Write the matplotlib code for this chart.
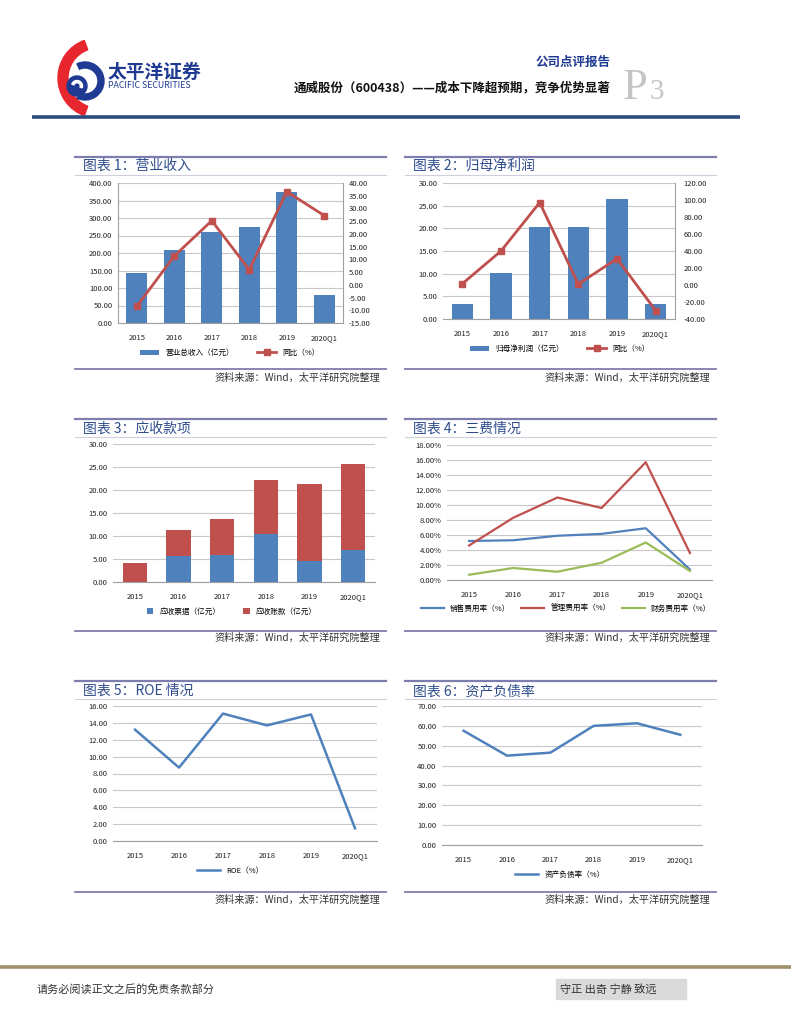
import matplotlib
matplotlib.use("Agg")
import matplotlib.pyplot as plt
import matplotlib.patches as mpatches
from matplotlib.ticker import FuncFormatter

plt.rcParams['font.family'] = ['Noto Sans CJK SC', 'DejaVu Sans']

W, H = 791, 1024

# ---- data ----
years = ['2015', '2016', '2017', '2018', '2019', '2020Q1']

revenue = [142, 210, 260, 274, 375, 79]
revenue_yoy = [-8.5, 11.3, 25.2, 5.9, 36.6, 27.2]

profit = [3.2, 10.1, 20.2, 20.2, 26.4, 3.3]
profit_yoy = [1.5, 40.0, 97.0, 1.0, 31.0, -30.0]

notes_recv = [0.0, 5.7, 5.9, 10.5, 4.5, 7.0]
accts_recv = [4.2, 5.7, 7.9, 11.7, 16.8, 18.6]

sell_rate = [5.2, 5.3, 5.9, 6.15, 6.9, 1.4]
admin_rate = [4.6, 8.3, 11.0, 9.6, 15.7, 3.6]
fin_rate = [0.7, 1.6, 1.1, 2.3, 5.0, 1.2]

roe = [13.2, 8.7, 15.1, 13.7, 15.0, 1.5]
debt_ratio = [57.5, 45.0, 46.5, 60.0, 61.3, 55.5]

BLUE = '#4F81BD'
RED = '#C0504D'
GREEN = '#9BBB59'
GRID = '#C8C8C8'
TICK = 5.5

fig = plt.figure(figsize=(W / 100, H / 100), dpi=100)

# overlay in pixel coords for page decorations
ov = fig.add_axes([0, 0, 1, 1], zorder=-1)
ov.set_xlim(0, W)
ov.set_ylim(H, 0)
ov.axis('off')


def px_axes(x0, y0, x1, y1):
    return fig.add_axes([x0 / W, 1 - y1 / H, (x1 - x0) / W, (y1 - y0) / H])


def fxy(x, y):
    return (x / W, 1 - y / H)


def style(ax, ymin, ymax, step, side_spines=False):
    ax.set_ylim(ymin, ymax)
    ax.set_yticks([ymin + i * step for i in range(int(round((ymax - ymin) / step)) + 1)])
    ax.yaxis.set_major_formatter(FuncFormatter(lambda v, p: '%.2f' % v))
    ax.set_xlim(-0.5, len(years) - 0.5)
    ax.set_xticks(range(len(years)))
    ax.set_xticklabels(years)
    ax.tick_params(axis='both', length=0, labelsize=TICK, colors='#222222', pad=8)
    ax.tick_params(axis='y', pad=4)
    ax.grid(axis='y', color=GRID, lw=0.8)
    ax.set_axisbelow(True)
    for s in ['top', 'right']:
        ax.spines[s].set_visible(False)
    ax.spines['bottom'].set_color('#A0A0A0')
    ax.spines['left'].set_color('#A0A0A0')
    ax.spines['left'].set_visible(side_spines)


# ---- page header ----
ov.add_patch(mpatches.Wedge((98, 78), 40, 110, 250, width=10, color='#E8262E'))
ov.add_patch(mpatches.Wedge((85, 81), 19, -115, 115, width=6, color='#1F3A93'))
ov.add_patch(mpatches.Circle((77, 86), 10, color='#1F3A93'))
ov.add_patch(mpatches.Wedge((77, 86), 5.5, 200, 20, width=2.2, color='white'))
ov.text(107, 72, '太平洋证券', fontsize=13.5, fontweight='bold', color='#1F3A93', va='center')
ov.text(108, 86, 'PACIFIC SECURITIES', fontsize=6.3, color='#1F3A93', va='center')
ov.text(611, 62, '公司点评报告', fontsize=9, fontweight='bold', color='#1F3A93', ha='right', va='center')
ov.text(611, 88, '通威股份（600438）——成本下降超预期，竞争优势显著', fontsize=9,
        fontweight='bold', color='#111111', ha='right', va='center')
ov.text(623, 99, 'P', fontsize=32, color='#C4C4C4', family='Liberation Serif', va='baseline')
ov.text(650, 99, '3', fontsize=21, color='#C4C4C4', family='Liberation Serif', va='baseline')
ov.plot([32, 740], [117, 117], color='#2B4C7E', lw=2.6, solid_capstyle='butt')

# ---- footer ----
ov.plot([0, W], [967, 967], color='#9D9169', lw=2.6, solid_capstyle='butt')
ov.text(37, 989, '请务必阅读正文之后的免责条款部分', fontsize=8, color='#333333', va='center')
ov.add_patch(mpatches.Rectangle((556, 979), 130, 20, color='#DADADA'))
ov.text(560, 989, '守正 出奇 宁静 致远', fontsize=8, color='#333333', va='center')

# ---- panel frames ----
rows = [(157, 166, 175, 369, 378), (419, 429, 437, 631, 638), (681, 691, 699, 892, 900)]
titles = [['图表 1：营业收入', '图表 2：归母净利润'],
          ['图表 3：应收款项', '图表 4：三费情况'],
          ['图表 5：ROE 情况', '图表 6：资产负债率']]
cols = [(75, 386), (405, 716)]
for r, (top, ty, under, bot, src) in enumerate(rows):
    for c, (x0, x1) in enumerate(cols):
        ov.plot([x0, x1], [top, top], color='#7E7EAE', lw=1.6)
        ov.plot([x0, x1], [under, under], color='#CFCFDD', lw=0.8)
        ov.plot([x0, x1], [bot, bot], color='#7E7EAE', lw=1.3)
        ov.text(x0 + 8, ty, titles[r][c], fontsize=10, color='#2E4C8C', va='center')
        ov.text(x1 - 6, src, '资料来源：Wind，太平洋研究院整理', fontsize=7.3,
                color='#333333', ha='right', va='center')

x = list(range(len(years)))

# ---- chart 1 ----
ax1 = px_axes(118, 183, 343, 323)
style(ax1, 0, 400, 50, side_spines=True)
b1 = ax1.bar(x, revenue, width=0.55, color=BLUE, label='营业总收入（亿元）')
ax1r = ax1.twinx()
ax1r.set_ylim(-15, 40)
ax1r.set_yticks(range(-15, 41, 5))
ax1r.yaxis.set_major_formatter(FuncFormatter(lambda v, p: '%.2f' % v))
ax1r.tick_params(length=0, labelsize=TICK, colors='#222222', pad=4)
for s in ['top', 'left', 'bottom']:
    ax1r.spines[s].set_visible(False)
ax1r.spines['right'].set_color('#A0A0A0')
l1, = ax1r.plot(x, revenue_yoy, color=RED, lw=2, marker='s', ms=4.5, label='同比（%）')
ax1.legend([b1, l1], ['营业总收入（亿元）', '同比（%）'], loc='center', ncol=2, frameon=False,
           fontsize=TICK, bbox_to_anchor=fxy(230, 353), bbox_transform=fig.transFigure,
           handlelength=2.5, columnspacing=3)

# ---- chart 2 ----
ax2 = px_axes(443, 183, 675, 319)
style(ax2, 0, 30, 5, side_spines=False)
b2 = ax2.bar(x, profit, width=0.55, color=BLUE)
ax2r = ax2.twinx()
ax2r.set_ylim(-40, 120)
ax2r.set_yticks(range(-40, 121, 20))
ax2r.yaxis.set_major_formatter(FuncFormatter(lambda v, p: '%.2f' % v))
ax2r.tick_params(length=0, labelsize=TICK, colors='#222222', pad=6)
for s in ['top', 'left', 'bottom']:
    ax2r.spines[s].set_visible(False)
ax2r.spines['right'].set_color('#A0A0A0')
l2, = ax2r.plot(x, profit_yoy, color=RED, lw=2, marker='s', ms=4.5)
ax2.legend([b2, l2], ['归母净利润（亿元）', '同比（%）'], loc='center', ncol=2, frameon=False,
           fontsize=TICK, bbox_to_anchor=fxy(560, 349), bbox_transform=fig.transFigure,
           handlelength=2.5, columnspacing=3)

# ---- chart 3 ----
ax3 = px_axes(113, 444, 375, 582)
style(ax3, 0, 30, 5)
b3a = ax3.bar(x, notes_recv, width=0.55, color=BLUE)
b3b = ax3.bar(x, accts_recv, width=0.55, bottom=notes_recv, color=RED)
ax3.legend([b3a, b3b], ['应收票据（亿元）', '应收账款（亿元）'], loc='center', ncol=2, frameon=False,
           fontsize=TICK, bbox_to_anchor=fxy(232, 612), bbox_transform=fig.transFigure,
           handlelength=0.8, handleheight=0.8, columnspacing=3)

# ---- chart 4 ----
ax4 = px_axes(447, 445, 712, 580)
style(ax4, 0, 18, 2)
ax4.yaxis.set_major_formatter(FuncFormatter(lambda v, p: '%.2f%%' % v))
la, = ax4.plot(x, sell_rate, color=BLUE, lw=1.6)
lb, = ax4.plot(x, admin_rate, color=RED, lw=1.6)
lc, = ax4.plot(x, fin_rate, color=GREEN, lw=1.6)
ax4.legend([la, lb, lc], ['销售费用率（%）', '管理费用率（%）', '财务费用率（%）'], loc='center', ncol=3,
           frameon=False, fontsize=TICK, bbox_to_anchor=fxy(566, 609),
           bbox_transform=fig.transFigure, handlelength=3, columnspacing=1.5)

# ---- chart 5 ----
ax5 = px_axes(113, 706, 377, 841)
style(ax5, 0, 16, 2)
l5, = ax5.plot(x, roe, color=BLUE, lw=1.8)
ax5.legend([l5], ['ROE（%）'], loc='center', frameon=False, fontsize=TICK,
           bbox_to_anchor=fxy(230, 871), bbox_transform=fig.transFigure, handlelength=3)

# ---- chart 6 ----
ax6 = px_axes(442, 706, 702, 845)
style(ax6, 0, 70, 10)
l6, = ax6.plot(x, debt_ratio, color=BLUE, lw=1.8)
ax6.legend([l6], ['资产负债率（%）'], loc='center', frameon=False, fontsize=TICK,
           bbox_to_anchor=fxy(560, 875), bbox_transform=fig.transFigure, handlelength=3)

fig.savefig('out.png', dpi=100)
